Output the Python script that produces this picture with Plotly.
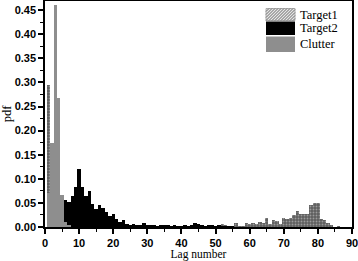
import plotly.graph_objects as go

lags = list(range(1, 88))

# Target1 (hatched)
target1 = [0.295] + [0.0]*48 + [
    0.002, 0.001, 0.006, 0.003, 0.002,   # 50-54
    0.001, 0.008, 0.002, 0.001, 0.008,   # 55-59
    0.006, 0.008, 0.006, 0.011, 0.009,   # 60-64
    0.018, 0.007, 0.014, 0.012, 0.006,   # 65-69
    0.018, 0.017, 0.019, 0.024, 0.033,   # 70-74
    0.026, 0.026, 0.026, 0.045, 0.050,   # 75-79
    0.049, 0.017, 0.014, 0.008, 0.003,   # 80-84
    0.0, 0.002, 0.0]                     # 85-87

# Target2 (black)
target2 = [0.0, 0.0, 0.0, 0.0, 0.0,              # 1-5
           0.057, 0.051, 0.065, 0.082, 0.120,    # 6-10
           0.082, 0.064, 0.075, 0.047, 0.038,    # 11-15
           0.045, 0.040, 0.031, 0.022, 0.026,    # 16-20
           0.017, 0.010, 0.014, 0.007, 0.005,    # 21-25
           0.006, 0.004, 0.003, 0.008, 0.003,    # 26-30
           0.004, 0.004, 0.002, 0.003, 0.004,    # 31-35
           0.003, 0.002, 0.004, 0.002, 0.002,    # 36-40
           0.003, 0.002, 0.003, 0.008, 0.007,    # 41-45
           0.005, 0.002, 0.005, 0.005, 0.002,    # 46-50
           0.003, 0.002, 0.001, 0.001, 0.001] + [0.0]*32

# Clutter (gray)
clutter = [0.070, 0.175, 0.460, 0.268, 0.066, 0.010, 0.005] + [0.0]*80

series_names = ["Target1", "Target2", "Clutter"]

T1_BG = "#5e5e5e"
T2_COL = "#000000"
CL_COL = "#8e8e8e"

fig = go.Figure()
fig.add_trace(go.Bar(x=lags, y=target1, name="Target1", width=1, showlegend=False,
                     marker=dict(color=T1_BG, line=dict(width=0),
                                 pattern=dict(shape=".", fgcolor="#d8d8d8",
                                              bgcolor=T1_BG, size=3, solidity=0.3))))
fig.add_trace(go.Bar(x=lags, y=target2, name="Target2", width=1, showlegend=False,
                     marker=dict(color=T2_COL, line=dict(width=0))))
fig.add_trace(go.Bar(x=lags, y=clutter, name="Clutter", width=1, showlegend=False,
                     marker=dict(color=CL_COL, line=dict(width=0))))

# ---- custom legend (swatches + labels), in pixel geometry of plot area ----
L, R, T, B = 45, 352, 1, 227
def px(x):
    return (x - L) / (R - L)
def py(y):
    return (B - y) / (B - T)

shapes = []
annotations = []
sw_x0, sw_x1 = 266, 295
rows = [(8.5, 20.5), (21.5, 35), (36.5, 52)]
# Target1 hatched swatch
y0, y1 = rows[0]
shapes.append(dict(type="rect", xref="paper", yref="paper",
                   x0=px(sw_x0), x1=px(sw_x1), y0=py(y1), y1=py(y0),
                   fillcolor="#e6e6e6", line=dict(color="#9a9a9a", width=0.8)))
step = 3
h = y1 - y0
k = sw_x0 - h
while k < sw_x1:
    xa, ya, xb, yb = k, y1, k + h, y0
    if xa < sw_x0:
        ya = ya - (sw_x0 - xa)
        xa = sw_x0
    if xb > sw_x1:
        yb = yb + (xb - sw_x1)
        xb = sw_x1
    if xb > xa:
        shapes.append(dict(type="line", xref="paper", yref="paper",
                           x0=px(xa), y0=py(ya), x1=px(xb), y1=py(yb),
                           line=dict(color="#6a6a6a", width=1)))
    k += step
for (y0, y1), col in zip(rows[1:], [T2_COL, CL_COL]):
    shapes.append(dict(type="rect", xref="paper", yref="paper",
                       x0=px(sw_x0), x1=px(sw_x1), y0=py(y1), y1=py(y0),
                       fillcolor=col, line=dict(width=0)))
for (y0, y1), name in zip(rows, series_names):
    annotations.append(dict(xref="paper", yref="paper", x=px(sw_x1 + 3), y=py((y0 + y1) / 2),
                            xanchor="left", yanchor="middle", showarrow=False, text=name,
                            font=dict(family="Liberation Serif", size=12.5, color="black")))

fig.update_layout(
    width=358, height=261,
    margin=dict(l=45, r=6, t=1, b=34),
    barmode="overlay", bargap=0,
    plot_bgcolor="white", paper_bgcolor="white",
    showlegend=False,
    shapes=shapes, annotations=annotations,
    font=dict(family="Liberation Sans", size=11, color="black"),
)
fig.update_xaxes(range=[0, 90], tickmode="linear", tick0=0, dtick=10,
                 ticks="outside", ticklen=5, tickwidth=1.5, tickcolor="black",
                 ticklabeloverflow="allow", automargin=False,
                 minor=dict(ticks="outside", ticklen=3, dtick=5, tickcolor="black", tickwidth=1),
                 showline=True, linecolor="black", linewidth=1.5, mirror=True,
                 showgrid=False, zeroline=False,
                 tickfont=dict(family="Liberation Sans", size=11, weight="bold"),
                 title=dict(text="Lag number", standoff=5,
                            font=dict(family="Liberation Serif", size=11.5)))
fig.update_yaxes(range=[0, 0.469], tickmode="linear", tick0=0, dtick=0.05,
                 tickformat=".2f", automargin=False,
                 ticks="outside", ticklen=5, tickwidth=1.5, tickcolor="black",
                 minor=dict(ticks="outside", ticklen=3, dtick=0.025, tickcolor="black", tickwidth=1),
                 showline=True, linecolor="black", linewidth=1.5, mirror=True,
                 showgrid=False, zeroline=False,
                 tickfont=dict(family="Liberation Sans", size=11, weight="bold"),
                 title=dict(text="pdf", standoff=3,
                            font=dict(family="Liberation Serif", size=12.5)))

fig.write_html("out.html", config={"displayModeBar": False},
               post_script="document.body.style.margin='0';document.body.style.overflow='hidden';")
